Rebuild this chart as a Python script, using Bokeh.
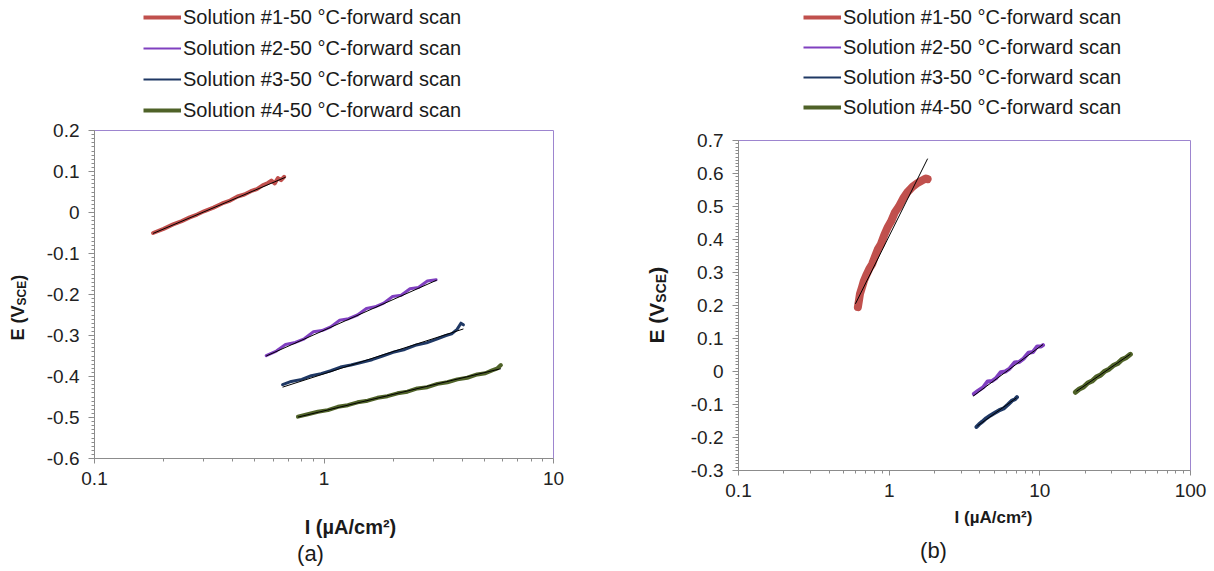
import math
from bokeh.plotting import figure
from bokeh.layouts import row, column
from bokeh.models import (Range1d, FixedTicker, CustomJSTickFormatter, Legend,
                          LegendItem, Label)
from bokeh.embed import file_html
from bokeh.resources import INLINE

# ---------------- data ----------------
legend_labels = ["Solution #1-50 °C-forward scan", "Solution #2-50 °C-forward scan",
                 "Solution #3-50 °C-forward scan", "Solution #4-50 °C-forward scan"]
colors = ["#c0504d", "#8040c0", "#1f3864", "#4f6228"]

# panel (a)
a1_x = [0.18, 0.20, 0.22, 0.24, 0.26, 0.28, 0.30, 0.33, 0.36, 0.39, 0.42, 0.45, 0.48, 0.51,
        0.54, 0.57, 0.59, 0.61, 0.63, 0.65, 0.67]
a1_y = [-0.050, -0.040, -0.029, -0.021, -0.012, -0.005, 0.003, 0.012, 0.022, 0.029, 0.039,
        0.044, 0.052, 0.057, 0.066, 0.072, 0.078, 0.071, 0.084, 0.079, 0.087]
a2_x = [0.56, 0.62, 0.68, 0.75, 0.82, 0.90, 0.98, 1.07, 1.17, 1.28, 1.40, 1.53, 1.67, 1.82,
        1.99, 2.17, 2.37, 2.58, 2.82, 3.08]
a2_y = [-0.349, -0.338, -0.322, -0.317, -0.308, -0.291, -0.288, -0.279, -0.263, -0.259,
        -0.250, -0.234, -0.230, -0.221, -0.205, -0.202, -0.186, -0.183, -0.167, -0.164]
a3_x = [0.66, 0.72, 0.80, 0.88, 0.97, 1.07, 1.18, 1.31, 1.45, 1.62, 1.80, 2.00, 2.25, 2.50,
        2.80, 3.10, 3.40, 3.60, 3.80, 3.95, 4.05]
a3_y = [-0.420, -0.412, -0.407, -0.398, -0.393, -0.386, -0.377, -0.372, -0.366, -0.359,
        -0.350, -0.341, -0.334, -0.324, -0.318, -0.309, -0.300, -0.296, -0.285, -0.270, -0.274]
a4_x = [0.77, 0.85, 0.94, 1.04, 1.15, 1.27, 1.40, 1.55, 1.71, 1.89, 2.09, 2.31, 2.55, 2.82,
        3.12, 3.45, 3.81, 4.21, 4.65, 5.05, 5.40, 5.70, 5.90]
a4_y = [-0.498, -0.492, -0.486, -0.482, -0.474, -0.470, -0.463, -0.459, -0.452, -0.448,
        -0.441, -0.437, -0.429, -0.426, -0.418, -0.414, -0.407, -0.403, -0.395, -0.392,
        -0.385, -0.380, -0.372]
fa_x = [[0.18, 0.68], [0.56, 3.10], [0.66, 4.05], [0.77, 5.90]]
fa_y = [[-0.051, 0.086], [-0.350, -0.165], [-0.426, -0.284], [-0.499, -0.381]]

# panel (b)
b1_x = [0.62, 0.63, 0.64, 0.66, 0.68, 0.71, 0.74, 0.77, 0.80, 0.84, 0.88, 0.93, 0.98, 1.03,
        1.09, 1.16, 1.24, 1.33, 1.43, 1.53, 1.64, 1.75, 1.80]
b1_y = [0.195, 0.215, 0.235, 0.255, 0.275, 0.295, 0.312, 0.325, 0.345, 0.370, 0.385, 0.415,
        0.438, 0.455, 0.482, 0.500, 0.525, 0.545, 0.560, 0.570, 0.578, 0.585, 0.583]
b2_x = [3.65, 3.90, 4.20, 4.50, 4.80, 5.10, 5.50, 5.90, 6.30, 6.80, 7.30, 7.80, 8.40, 9.00,
        9.60, 10.2, 10.5]
b2_y = [-0.068, -0.058, -0.048, -0.030, -0.029, -0.021, -0.002, 0.000, 0.009, 0.027, 0.029,
        0.039, 0.057, 0.059, 0.076, 0.076, 0.080]
b3_x = [3.80, 3.95, 4.15, 4.40, 4.70, 5.00, 5.35, 5.75, 6.15, 6.55, 6.85, 7.05]
b3_y = [-0.168, -0.160, -0.152, -0.142, -0.133, -0.126, -0.118, -0.112, -0.100, -0.088,
        -0.084, -0.078]
b4_x = [17.2, 18.3, 19.5, 20.8, 22.2, 23.7, 25.3, 27.0, 28.8, 30.7, 32.8, 35.0, 37.3, 39.9]
b4_y = [-0.063, -0.053, -0.047, -0.035, -0.029, -0.017, -0.011, 0.001, 0.007, 0.018, 0.024,
        0.036, 0.042, 0.052]
fb_x = [[0.597, 1.80], [3.60, 10.5], [3.85, 7.00], [17.5, 40.0]]
fb_y = [[0.205, 0.645], [-0.075, 0.082], [-0.165, -0.080], [-0.060, 0.053]]

ya_ticks = [-0.6, -0.5, -0.4, -0.3, -0.2, -0.1, 0, 0.1, 0.2]
yb_ticks = [-0.3, -0.2, -0.1, 0, 0.1, 0.2, 0.3, 0.4, 0.5, 0.6, 0.7]
xa_ticks = [0.1, 1, 10]
xb_ticks = [0.1, 1, 10, 100]
x_label = "I (µA/cm²)"

FONT = "Liberation Sans"
AXIS_COL = "#8c8c8c"
OUTLINE = "#9d85cf"
TXT = "#1a1a1a"
NAN = float("nan")


def aux_fig(w, h, xr, yr, borders):
    l, r, t, b = borders
    f = figure(width=w, height=h, x_range=Range1d(*xr), y_range=Range1d(*yr),
               x_axis_location=None, y_axis_location=None,
               output_backend="svg", toolbar_location=None, min_border=0,
               min_border_left=l, min_border_right=r, min_border_top=t, min_border_bottom=b)
    f.outline_line_color = None
    f.xgrid.visible = False
    f.ygrid.visible = False
    return f


def make_panel(width, height, borders, xr, yr, xticks, yticks, decades):
    l, r, t, b = borders
    p = figure(width=width, height=height, x_axis_type="log",
               x_range=Range1d(*xr), y_range=Range1d(*yr),
               output_backend="svg", toolbar_location=None, min_border=0,
               min_border_left=l, min_border_right=r, min_border_top=t, min_border_bottom=b)
    p.xgrid.visible = False
    p.ygrid.visible = False
    p.outline_line_color = OUTLINE
    p.outline_line_width = 1
    minor_x = [m * 10 ** k for k in decades for m in range(2, 10)]
    n = int(round((yr[1] - yr[0]) / 0.01))
    minor_y = [round(yr[0] + 0.01 * i, 2) for i in range(n + 1)]
    p.xaxis.ticker = FixedTicker(ticks=xticks, minor_ticks=minor_x)
    p.yaxis.ticker = FixedTicker(ticks=yticks, minor_ticks=minor_y)
    p.xaxis.formatter = CustomJSTickFormatter(code="return String(tick);")
    p.yaxis.formatter = CustomJSTickFormatter(code="return String(tick);")
    for ax in (p.xaxis[0], p.yaxis[0]):
        ax.axis_line_color = AXIS_COL
        ax.major_tick_line_color = AXIS_COL
        ax.minor_tick_line_color = AXIS_COL
        ax.major_tick_in = 0
        ax.minor_tick_in = 0
        ax.major_tick_out = 6
        ax.minor_tick_out = 3
        ax.major_label_text_font = FONT
        ax.major_label_text_font_size = "19px"
        ax.major_label_text_color = "#222222"
    p.xaxis.major_tick_out = 5
    p.xaxis.major_label_standoff = 8
    p.yaxis.major_label_standoff = 9
    return p


def add_series(p, xs, ys, fx, fy, widths):
    for x, y, c, w in zip(xs, ys, colors, widths):
        p.line(x, y, line_color=c, line_width=w, line_join="round", line_cap="round")
    for x, y in zip(fx, fy):
        p.line(x, y, line_color="black", line_width=1)


def legend_fig(w, h, right_border, loc, spacing):
    f = aux_fig(w, h, (0, 1), (0, 1), (0, right_border, 0, 0))
    items = []
    for lab, c, lw in zip(legend_labels, colors, [4, 2, 2, 4]):
        r = f.line([NAN], [NAN], line_color=c, line_width=lw)
        items.append(LegendItem(label=lab, renderers=[r]))
    lg = Legend(items=items, location=loc, orientation="vertical", padding=0, margin=0,
                spacing=spacing, glyph_width=38, glyph_height=24, label_height=24,
                label_standoff=2, border_line_alpha=0, background_fill_alpha=0,
                label_text_font=FONT, label_text_font_size="20px", label_text_color=TXT)
    f.add_layout(lg)
    return f


def add_ylabel(f, x, y0, big, small):
    w_main = 1.945 * big
    w_sub = 2.056 * small
    parts = [("E (V", x, y0, big), ("SCE", x + 4, y0 - w_main, small),
             (")", x, y0 - w_main - w_sub, big)]
    for txt, xx, yy, sz in parts:
        f.add_layout(Label(x=xx, y=yy, text=txt, angle=math.pi / 2, text_align="left",
                           text_baseline="middle", text_font=FONT, text_font_style="bold",
                           text_font_size=f"{sz}px", text_color=TXT))


def add_text(f, x, y, text, size, bold):
    f.add_layout(Label(x=x, y=y, text=text, text_align="center", text_baseline="middle",
                       text_font=FONT, text_font_style="bold" if bold else "normal",
                       text_font_size=f"{size}px", text_color=TXT))


# ---------------- panel (a) ----------------
legA = legend_fig(595, 121, 42, (143, -1), 7)
ylabA = aux_fig(40, 373, (0, 40), (458, 130), (0, 0, 9, 36))
add_ylabel(ylabA, 17.5, 340, 18, 12)
pa = make_panel(555, 373, (54, 42, 9, 36), (0.1, 10), (-0.6, 0.2), xa_ticks, ya_ticks, (-1, 0))
add_series(pa, [a1_x, a2_x, a3_x, a4_x], [a1_y, a2_y, a3_y, a4_y], fa_x, fa_y, [4, 3, 3, 4])
capA = aux_fig(595, 74, (0, 553), (568, 494), (0, 42, 0, 0))
add_text(capA, 350, 526, x_label, 20, True)
add_text(capA, 310, 553, "(a)", 22, False)

# ---------------- panel (b) ----------------
legB = legend_fig(614, 131, 19, (208, 12), 6)
ylabB = aux_fig(80, 375, (595, 675), (470, 140), (0, 0, 9, 36))
add_ylabel(ylabB, 656, 343, 21, 14)
pb = make_panel(534, 375, (63, 19, 9, 36), (0.1, 100), (-0.3, 0.7), xb_ticks, yb_ticks, (-1, 0, 1))
add_series(pb, [b1_x, b2_x, b3_x, b4_x], [b1_y, b2_y, b3_y, b4_y], fb_x, fb_y, [8, 4, 4, 5])
capB = aux_fig(614, 62, (595, 1190), (568, 506), (0, 19, 0, 0))
add_text(capB, 993, 517, x_label, 17, True)
add_text(capB, 933, 550, "(b)", 22, False)

layout = row(column(legA, row(ylabA, pa), capA), column(legB, row(ylabB, pb), capB))
open("out.html", "w").write(file_html(layout, INLINE))
